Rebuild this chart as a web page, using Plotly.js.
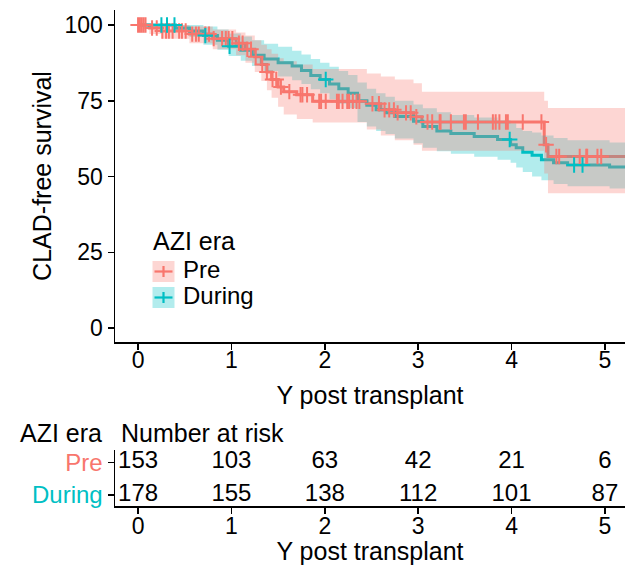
<!DOCTYPE html>
<html><head><meta charset="utf-8">
<script src="https://cdn.plot.ly/plotly-3.0.1.min.js"></script>
<style>html,body{margin:0;padding:0;background:#fff}</style>
</head><body><div id="chart" style="width:625px;height:565px"></div>
<script>
// ---- data ----
const groups = ["Pre", "During"];
const groupColors = ["#F8766D", "#00BFC4"];

const preTime  = [0, 0.12, 0.25, 0.55, 0.8, 1.05, 1.15, 1.25, 1.32, 1.38, 1.43, 1.5, 1.56, 1.7, 1.87, 2.45, 2.6, 2.75, 2.95, 3.04, 4.35, 4.39];
const preSurv  = [100, 99, 98, 97, 95.5, 94, 92, 89.5, 87, 84.5, 82, 79.5, 78, 77, 74.8, 74, 72, 71, 69.7, 68, 60.5, 56.6];
const preUpper = [100, 100, 100, 99.5, 98.5, 97.5, 96.5, 95, 93.5, 92, 90.5, 89, 88, 87, 85.5, 84, 83, 82, 80.8, 78, 75, 72.6];
const preLower = [100, 97, 95.5, 94, 92, 90, 87.5, 84.5, 81.5, 78.5, 76, 73, 70.5, 69, 67.8, 65.5, 63.5, 62, 60.5, 58.5, 51, 44.5];
const preCensor = [0.0, 0.02, 0.04, 0.06, 0.08, 0.15, 0.2, 0.26, 0.3, 0.33, 0.37, 0.44, 0.47, 0.51, 0.58, 0.62, 0.65, 0.72, 0.76, 0.81, 0.9, 0.94, 0.97, 1.01, 1.08, 1.12, 1.17, 1.21, 1.26, 1.33, 1.38, 1.44, 1.48, 1.53, 1.62, 1.74, 1.76, 1.81, 1.94, 1.96, 2.01, 2.13, 2.15, 2.19, 2.24, 2.26, 2.30, 2.34, 2.37, 2.51, 2.58, 2.64, 2.69, 2.74, 2.78, 2.87, 2.92, 2.98, 3.10, 3.15, 3.23, 3.24, 3.35, 3.49, 3.51, 3.64, 3.80, 3.83, 3.87, 3.94, 3.96, 4.12, 4.32, 4.37, 4.48, 4.51, 4.73, 4.80, 4.81, 4.92, 4.96];

const duringTime  = [0, 0.4, 0.55, 0.7, 0.85, 0.97, 1.1, 1.22, 1.35, 1.5, 1.65, 1.75, 1.85, 1.95, 2.05, 2.15, 2.25, 2.35, 2.45, 2.55, 2.65, 2.75, 2.95, 3.05, 3.2, 3.35, 3.6, 3.85, 3.99, 4.05, 4.12, 4.22, 4.32, 4.45, 4.6, 5.05];
const duringSurv  = [100, 99, 98, 96.5, 95, 93, 91.7, 90, 88.8, 87.5, 86.5, 85, 83.3, 82, 80.5, 79, 77.5, 75, 73.5, 72, 71, 69.8, 68.2, 66.5, 65, 64.2, 63.2, 62.2, 60.5, 59.5, 58, 57, 55.5, 54.5, 53.8, 53.1];
const duringUpper = [100, 100, 100, 99.5, 98.5, 97.2, 96.2, 95, 93.8, 92.8, 91.5, 90.3, 88.8, 87.5, 86.2, 84.8, 83.5, 81, 79, 77.5, 76.3, 75, 73.8, 72.5, 71.2, 70.3, 69.5, 68.5, 67.5, 66, 65, 64.5, 63.5, 62.7, 62, 61.2];
const duringLower = [100, 98, 96, 93.5, 91.8, 89.8, 88.2, 86.5, 84.8, 83, 81.8, 80.5, 78.8, 77.5, 75.5, 74, 72.5, 68, 66.5, 65, 64, 62.5, 61, 59.5, 58.3, 57.5, 56.5, 55.5, 54.5, 53, 51.5, 50, 48.8, 47.5, 46.8, 46];
const duringCensor = [0.25, 0.31, 0.39, 0.72, 0.98, 2.01, 3.98, 4.67, 4.76];

const riskTimes  = [0, 1, 2, 3, 4, 5];
const preRisk    = [153, 103, 63, 42, 21, 6];
const duringRisk = [178, 155, 138, 112, 101, 87];

const xTicks = [0, 1, 2, 3, 4, 5];
const yTicks = [0, 25, 50, 75, 100];

// ---- helpers ----
const tEnd = 5.4;
function stepLine(t, s) { return { x: t.concat([tEnd]), y: s.concat([s[s.length - 1]]) }; }
function bandPoly(t, up, lo) {
  const xs = [], ys = [], n = t.length;
  for (let i = 0; i < n; i++) {
    const nx = i + 1 < n ? t[i + 1] : tEnd;
    xs.push(t[i], nx); ys.push(up[i], up[i]);
  }
  for (let i = n - 1; i >= 0; i--) {
    const nx = i + 1 < n ? t[i + 1] : tEnd;
    xs.push(nx, t[i]); ys.push(lo[i], lo[i]);
  }
  return { x: xs, y: ys };
}
function survAt(t, s, c) { let v = s[0]; for (let i = 0; i < t.length; i++) { if (t[i] <= c) v = s[i]; } return v; }

const FONT = "Liberation Sans, Arial, Helvetica, sans-serif";
const series = [
  { t: preTime, s: preSurv, u: preUpper, l: preLower, c: preCensor, color: groupColors[0], band: "rgba(248,118,109,0.3)" },
  { t: duringTime, s: duringSurv, u: duringUpper, l: duringLower, c: duringCensor, color: groupColors[1], band: "rgba(0,191,196,0.3)" }
];

const traces = [];
series.forEach(sr => {
  const ln = stepLine(sr.t, sr.s);
  traces.push({ type: "scatter", mode: "lines", x: ln.x, y: ln.y, line: { shape: "hv", color: sr.color, width: 3 }, showlegend: false, hoverinfo: "skip", xaxis: "x", yaxis: "y" });
});
[series[1], series[0]].forEach(sr => {
  const p = bandPoly(sr.t, sr.u, sr.l);
  traces.push({ type: "scatter", mode: "lines", x: p.x, y: p.y, fill: "toself", fillcolor: sr.band, line: { width: 0 }, showlegend: false, hoverinfo: "skip", xaxis: "x", yaxis: "y" });
});
series.forEach(sr => {
  traces.push({ type: "scatter", mode: "markers", x: sr.c, y: sr.c.map(c => survAt(sr.t, sr.s, c)),
    marker: { symbol: "cross-thin", size: 11, line: { color: sr.color, width: 2 } }, showlegend: false, hoverinfo: "skip", xaxis: "x", yaxis: "y" });
});
traces.push({ type: "scatter", mode: "text", x: riskTimes, y: riskTimes.map(() => 2), text: preRisk.map(String),
  textfont: { family: FONT, size: 24, color: "#000" }, cliponaxis: false, showlegend: false, hoverinfo: "skip", xaxis: "x2", yaxis: "y2" });
traces.push({ type: "scatter", mode: "text", x: riskTimes, y: riskTimes.map(() => 1), text: duringRisk.map(String),
  textfont: { family: FONT, size: 24, color: "#000" }, cliponaxis: false, showlegend: false, hoverinfo: "skip", xaxis: "x2", yaxis: "y2" });

const W = 625, H = 565;
const px = v => v / W, py = v => 1 - v / H;
const xRange = [-0.247, 5.215];
const axisCommon = { showline: true, linecolor: "#000", linewidth: 1.5, ticks: "outside", ticklen: 6, tickwidth: 1.5, tickcolor: "#000",
  showgrid: false, zeroline: false, tickfont: { family: FONT, size: 23, color: "#000" } };

const shapes = [], annotations = [];
const legendRows = [{ top: 261, bot: 282, cy: 271.5 }, { top: 287, bot: 308, cy: 297.5 }];
series.forEach((sr, i) => {
  const r = legendRows[i];
  shapes.push({ type: "rect", xref: "paper", yref: "paper", x0: px(152.5), x1: px(174.5), y0: py(r.bot), y1: py(r.top), fillcolor: sr.band, line: { width: 0 } });
  shapes.push({ type: "line", xref: "paper", yref: "paper", x0: px(154.5), x1: px(172.5), y0: py(r.cy), y1: py(r.cy), line: { color: sr.color, width: 2.2 } });
  shapes.push({ type: "line", xref: "paper", yref: "paper", x0: px(163.5), x1: px(163.5), y0: py(r.cy - 5.5), y1: py(r.cy + 5.5), line: { color: sr.color, width: 2.2 } });
  annotations.push({ xref: "paper", yref: "paper", x: px(181), y: py(r.cy - 2), xanchor: "left", yanchor: "middle", showarrow: false, text: groups[i], font: { family: FONT, size: 24, color: "#000" } });
});
annotations.push({ xref: "paper", yref: "paper", x: px(151), y: py(241), xanchor: "left", yanchor: "middle", showarrow: false, text: "AZI era", font: { family: FONT, size: 25, color: "#000" } });
annotations.push({ xref: "paper", yref: "paper", x: px(18), y: py(433), xanchor: "left", yanchor: "middle", showarrow: false, text: "AZI era", font: { family: FONT, size: 25, color: "#000" } });
annotations.push({ xref: "paper", yref: "paper", x: px(119), y: py(433), xanchor: "left", yanchor: "middle", showarrow: false, text: "Number at risk", font: { family: FONT, size: 25, color: "#000" } });

const layout = {
  width: W, height: H, margin: { l: 0, r: 0, t: 0, b: 0 }, paper_bgcolor: "#fff", plot_bgcolor: "#fff", showlegend: false,
  font: { family: FONT, color: "#000" },
  xaxis: Object.assign({}, axisCommon, { domain: [px(115), 1], range: xRange, tickvals: xTicks, anchor: "y", ticklabelstandoff: -9,
    title: { text: "Y post transplant", font: { family: FONT, size: 25, color: "#000" }, standoff: 14 } }),
  yaxis: Object.assign({}, axisCommon, { domain: [py(342), py(10)], range: [-4.62, 104.95], tickvals: yTicks, anchor: "x",
    title: { text: "CLAD-free survival", font: { family: FONT, size: 25, color: "#000" }, standoff: 6 } }),
  xaxis2: Object.assign({}, axisCommon, { domain: [px(115), 1], range: xRange, tickvals: xTicks, anchor: "y2", ticklabelstandoff: -7,
    title: { text: "Y post transplant", font: { family: FONT, size: 25, color: "#000" }, standoff: 14 } }),
  yaxis2: Object.assign({}, axisCommon, { domain: [py(506), py(450)], range: [0.66, 2.38], tickvals: [2, 1], anchor: "x2",
    ticktext: ['<span style="color:' + groupColors[0] + '">' + groups[0] + '</span>', '<span style="color:' + groupColors[1] + '">' + groups[1] + '</span>'],
    tickfont: { family: FONT, size: 24, color: "#000" } }),
  shapes: shapes, annotations: annotations
};

Plotly.newPlot("chart", traces, layout, { staticPlot: true, displayModeBar: false });
</script></body></html>
